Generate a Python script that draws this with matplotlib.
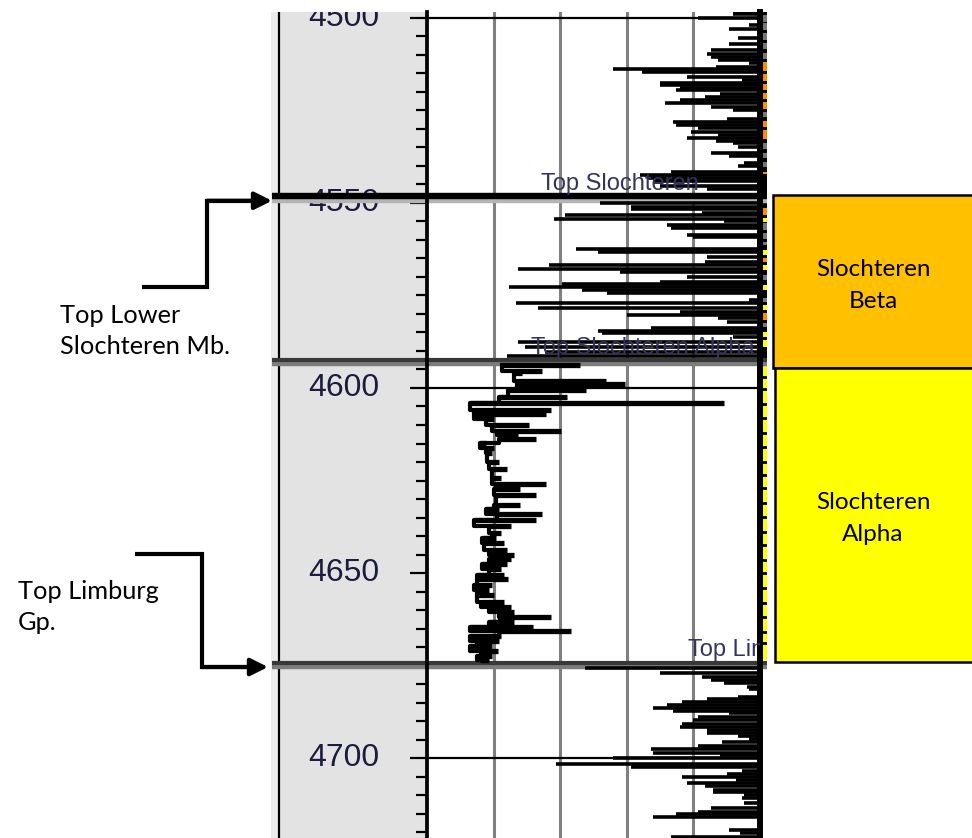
import matplotlib
matplotlib.use("Agg")
import matplotlib.pyplot as plt
from matplotlib.patches import Rectangle
from matplotlib.ticker import MultipleLocator

W, H, DPI = 972, 838, 100

# ---------------- data ----------------
depth_top, depth_base = 4498.4, 4721.6
gr_min, gr_max = 0, 150
grid_gr = [30, 60, 90, 120]
depth_labels = [4500, 4550, 4600, 4650, 4700]
depth_grid = [4500, 4600, 4700]

# shale intervals: gamma-ray spikes read back from the right edge of the track
spike_depth = [
    4498.6, 4499.0, 4500.1, 4501.9, 4503.1, 4505.5, 4507.0, 4508.6, 4509.7, 4510.6,
    4511.4, 4512.3, 4513.2, 4513.9, 4514.5, 4516.0, 4516.8, 4517.5, 4518.1, 4519.0,
    4519.6, 4520.6, 4521.4, 4522.2, 4523.1, 4524.0, 4524.9, 4527.2, 4528.1, 4528.9,
    4529.8, 4530.7, 4531.6, 4532.5, 4533.2, 4533.9, 4534.8, 4536.6, 4537.3, 4539.3,
    4540.0, 4541.6, 4542.4, 4543.3, 4544.2, 4545.4, 4546.3,
    4549.9, 4551.0, 4551.7, 4552.6, 4553.2, 4554.4, 4555.0, 4555.9, 4556.8, 4558.6,
    4559.3, 4562.5, 4563.3, 4564.5, 4565.9, 4566.9, 4567.8, 4568.6, 4570.1, 4571.3,
    4571.9, 4572.6, 4573.5, 4574.4, 4576.2, 4577.1, 4578.5, 4579.4, 4580.3, 4581.2,
    4582.1, 4583.9, 4584.5, 4585.2, 4586.3, 4587.7, 4588.8, 4590.2, 4591.4,
    4675.6, 4677.1, 4678.0, 4678.9, 4679.6, 4680.7, 4681.4, 4683.4, 4684.1, 4684.9,
    4685.7, 4686.6, 4687.3, 4687.9, 4688.8, 4689.7, 4690.8, 4691.7, 4692.4, 4693.1,
    4694.0, 4694.9, 4695.6, 4696.7, 4697.6, 4698.5, 4699.2, 4700.1, 4701.6, 4702.5,
    4703.4, 4704.3, 4705.2, 4705.9, 4706.8, 4707.6, 4708.5, 4709.1, 4710.0, 4710.9,
    4712.1, 4713.6, 4714.5, 4715.1, 4716.0, 4719.4, 4720.3, 4721.2,
]
spike_gr = [
    138, 138, 122, 145, 136, 140, 136, 128, 126, 128,
    131, 145, 130, 84, 97, 117, 142, 105, 105, 114,
    112, 132, 125, 114, 107, 128, 138, 135, 111, 112,
    122, 119, 131, 117, 130, 138, 140, 128, 136, 143,
    140, 110, 96, 99, 102, 105, 126,
    78, 92, 92, 124, 62, 57, 134, 108, 110, 117,
    120, 67, 77, 126, 125, 55, 41, 87, 117, 105,
    61, 37, 70, 81, 145, 40, 50, 114, 90, 131,
    135, 101, 77, 79, 138, 41, 44, 53, 36,
    71, 105, 124, 128, 134, 144, 145, 140, 126, 115,
    108, 102, 111, 136, 122, 120, 115, 114, 126, 126,
    140, 145, 133, 122, 101, 102, 132, 84, 58, 92,
    142, 135, 115, 139, 117, 125, 129, 129, 143, 142,
    143, 128, 122, 112, 102, 136, 141, 110,
]

# clean sandstone interval: base-line reading and right-hand excursion per sample
sand_depth = [
    4593.7, 4595.3, 4596.0, 4598.0, 4599.0, 4600.6, 4602.5, 4604.1, 4605.9, 4607.0,
    4608.3, 4609.9, 4611.6, 4612.7, 4613.9, 4614.9, 4616.3, 4617.7, 4620.0, 4622.0,
    4624.4, 4626.0, 4627.4, 4629.0, 4631.7, 4632.6, 4634.0, 4635.6, 4637.2, 4639.2,
    4640.6, 4642.0, 4643.8, 4645.0, 4646.3, 4647.5, 4649.0, 4650.6, 4651.6, 4653.2,
    4654.5, 4656.0, 4657.8, 4659.2, 4660.5, 4661.8, 4663.3, 4664.5, 4665.7, 4667.1,
    4668.3, 4669.6, 4671.0, 4672.3, 4673.5,
]
sand_left = [
    33.6, 39, 39, 40.5, 40.5, 36.5, 32.4, 19.2, 21, 21,
    26.4, 29.4, 31.7, 33, 32.4, 23.8, 26.4, 27, 27.9, 29.4,
    29.1, 30.9, 30.2, 30.9, 30.2, 26.4, 31.7, 21, 27.9, 29.4,
    24.9, 25.6, 27.9, 29.4, 27.9, 24.9, 27.9, 22.6, 22.6, 21,
    22.6, 22.6, 24.1, 27.9, 32.4, 33, 27.9, 19.2, 32.4, 19.2,
    22.6, 19.2, 24.1, 22.6, 24,
]
sand_right = [
    68.8, 52, 43, 80.5, 89, 71.8, 63, 134, 56, 53.6,
    30, 46, 60.5, 40.8, 49, 26.4, 30, 29.4, 32.4, 36.2,
    33.2, 53.6, 41.8, 49, 41.8, 32.4, 51.7, 49, 37.7, 33.2,
    30.9, 34.7, 36.2, 39.2, 37.7, 36.2, 33.2, 34.7, 36.5, 29.4,
    27.9, 30.2, 34.7, 37.7, 39.2, 56, 39.2, 47.6, 64.7, 33.2,
    32.4, 29.4, 32, 29.4, 28,
]

# formation tops
top_names = ["Top Slochteren", "Top Slochteren Alpha", "Top Limburg"]
top_label_gr = [51.3, 46.8, 117.6]
top_line_depth = [4548.2, 4592.4, 4674.2]
top_line_color = ["#000000", "#383838", "#383838"]
top_shadow_color = ["#b4b4b4", "#7c7c7c", "#7c7c7c"]

# lithology flag column
strip_top = [
    4499.2, 4501.4, 4504.1, 4506.8, 4509.5, 4511.9, 4515.1, 4517.8, 4520.3, 4522.7,
    4525.4, 4527.8, 4530.3, 4533.8, 4536.5, 4538.9, 4541.6,
    4551.4, 4554.1, 4555.4, 4558.1, 4560.5, 4562.7, 4564.9, 4566.8, 4569.5, 4572.2,
    4575.7, 4577.6, 4579.7, 4582.4, 4584.9, 4587.0,
]
strip_base = [
    4501.1, 4503.2, 4505.9, 4508.4, 4511.1, 4514.3, 4517.0, 4519.5, 4521.9, 4524.6,
    4526.8, 4529.5, 4532.7, 4535.4, 4537.8, 4540.3, 4542.2,
    4553.2, 4555.1, 4557.3, 4559.7, 4561.4, 4564.1, 4565.9, 4568.1, 4570.8, 4573.5,
    4576.8, 4578.9, 4581.6, 4583.5, 4586.2, 4588.9,
]
strip_color = [
    "grey", "grey", "grey", "grey", "grey", "orange", "orange", "orange", "orange", "orange",
    "grey", "orange", "orange", "grey", "grey", "grey", "orange",
    "orange", "yellow", "grey", "grey", "grey", "yellow", "orange", "yellow", "grey", "yellow",
    "grey", "yellow", "orange", "grey", "yellow", "yellow",
]
strip_alpha_marks = [
    4596.9, 4600.4, 4604.3, 4608.2, 4612.2, 4615.9, 4619.9, 4623.5, 4627.1, 4631.2,
    4634.8, 4638.8, 4642.4, 4646.5, 4650.1, 4654.1, 4658.2, 4661.8, 4665.9, 4669.0,
]
strip_dark_interval = (4498.4, 4594.0)
strip_alpha_interval = (4594.0, 4673.6)

# members
zone_names = ["Slochteren\nBeta", "Slochteren\nAlpha"]
zone_top = [4547.8, 4594.6]
zone_base = [4594.6, 4674.05]
zone_colors = ["#FFC000", "#FFFF00"]

# pointer labels
note_text = ["Top Lower\nSlochteren Mb.", "Top Limburg\nGp."]
note_depth = [4584.6, 4659.2]

# ---------------- figure ----------------
fig = plt.figure(figsize=(W / DPI, H / DPI), dpi=DPI)
panel_h = (H - 12) / H
palette = {"grey": "#777777", "orange": "#FF8C00", "yellow": "#FFFF00"}

# depth track
ax_d = fig.add_axes([271 / W, 0, 156 / W, panel_h])
ax_d.set_facecolor("#e3e3e3")
ax_d.set_xlim(0, 1)
ax_d.set_ylim(depth_base, depth_top)
for s in ax_d.spines.values():
    s.set_visible(False)
ax_d.axvspan(0, 0.05, color="#ececec", lw=0)
ax_d.axvline(0.052, color="k", lw=1.6)
ax_d.set_xticks([])
ax_d.yaxis.set_major_locator(MultipleLocator(50))
ax_d.yaxis.set_minor_locator(MultipleLocator(5))
ax_d.yaxis.tick_right()
ax_d.tick_params(axis="y", which="major", direction="in", length=12.2, width=1.6,
                 color="k", labelright=False, labelleft=False)
ax_d.tick_params(axis="y", which="minor", direction="in", length=8, width=1.6,
                 color="k")
for d in depth_labels:
    t = ax_d.text(0.465, d, str(d), ha="center", va="center", fontsize=23,
                  family="Liberation Sans", color="#1c1c3c", clip_on=True)
    t.set_clip_box(ax_d.bbox)

# log track
ax = fig.add_axes([427 / W, 0, 333 / W, panel_h])
ax.set_zorder(3)
ax.set_xlim(gr_min, gr_max)
ax.set_ylim(depth_base, depth_top)
ax.set_xticks([])
ax.set_yticks([])
for k, s in ax.spines.items():
    s.set_visible(k in ("left", "right"))
ax.spines["left"].set_linewidth(2.7)
ax.spines["right"].set_linewidth(4.3)
for g in grid_gr:
    ax.axvline(g, color="#808080", lw=2.2, zorder=1)
for d in depth_grid:
    ax.axhline(d, color="k", lw=1.6, zorder=1.5)

ytrans = ax.get_yaxis_transform()
for d, c, sc in zip(top_line_depth, top_line_color, top_shadow_color):
    ax.plot([-0.4655, 1.021], [d + 1.25, d + 1.25], color=sc, lw=3.2,
            transform=ytrans, clip_on=False, zorder=2, solid_capstyle="butt")
    ax.plot([-0.4655, 1.021], [d, d], color=c, lw=4.6 if c == "#000000" else 3.0,
            transform=ytrans, clip_on=False, zorder=2.1, solid_capstyle="butt")

ax.hlines(spike_depth, spike_gr, gr_max, color="k", lw=2.6, zorder=3)
ax.hlines(sand_depth, sand_left, sand_right, color="k", lw=3.8, zorder=3)
ax.plot(sand_left, sand_depth, color="k", lw=3.0, drawstyle="steps-pre", zorder=3)

for name, d, x in zip(top_names, top_line_depth, top_label_gr):
    t = ax.text(x, d - 1.7, name, ha="left", va="baseline", fontsize=17,
                family="Liberation Sans", color="#34345e", zorder=4, clip_on=True)
    t.set_clip_box(ax.bbox)

# lithology flag column
ax_s = fig.add_axes([761 / W, 0, 6 / W, panel_h])
ax_s.set_zorder(2)
ax_s.set_xlim(0, 1)
ax_s.set_ylim(depth_base, depth_top)
ax_s.axis("off")
ax_s.axhspan(*strip_dark_interval, color="k", lw=0)
ax_s.axhspan(*strip_alpha_interval, color=palette["yellow"], lw=0)
for t0, b0, c in zip(strip_top, strip_base, strip_color):
    ax_s.axhspan(t0, b0, color=palette[c], lw=0)
ax_s.hlines(strip_alpha_marks, 0, 1, color="k", lw=2.0)

# overlay for members and pointers (x in pixels, y in depth)
ax_o = fig.add_axes([0, 0, 1, 1])
ax_o.set_zorder(5)
ax_o.patch.set_alpha(0)
ax_o.axis("off")
ax_o.set_xlim(0, W)
span = (depth_base - depth_top) / panel_h
ax_o.set_ylim(depth_base, depth_base - span)

for name, t0, b0, c, x0 in zip(zone_names, zone_top, zone_base, zone_colors, [773, 775]):
    ax_o.add_patch(Rectangle((x0, t0), 260, b0 - t0, facecolor=c, edgecolor="k", lw=1.8))
    ax_o.text(873, (t0 + b0) / 2 + 1.0, name, ha="center", va="center", fontsize=17.5,
              family="Lato", linespacing=1.65, color="k")

tip_off = 1.2
arrows = [
    ([142, 207, 207, 258], [4572.7, 4572.7, top_line_depth[0] + tip_off, top_line_depth[0] + tip_off], 272),
    ([135, 202, 202, 254], [4644.9, 4644.9, top_line_depth[2] + tip_off, top_line_depth[2] + tip_off], 268),
]
for xs, ys, tip in arrows:
    ax_o.plot(xs, ys, color="k", lw=3.0, solid_joinstyle="miter", solid_capstyle="butt")
    ax_o.annotate("", xy=(tip, ys[-1]), xytext=(xs[-2], ys[-1]),
                  arrowprops=dict(arrowstyle="-|>", color="k", lw=3.0,
                                  mutation_scale=26, shrinkA=0, shrinkB=0))

ax_o.text(60, note_depth[0], note_text[0], ha="left", va="center", fontsize=18.3,
          family="Lato", linespacing=1.42, color="k")
ax_o.text(18, note_depth[1], note_text[1], ha="left", va="center", fontsize=18.3,
          family="Lato", linespacing=1.42, color="k")

fig.savefig("out.png", dpi=DPI, facecolor="white")
